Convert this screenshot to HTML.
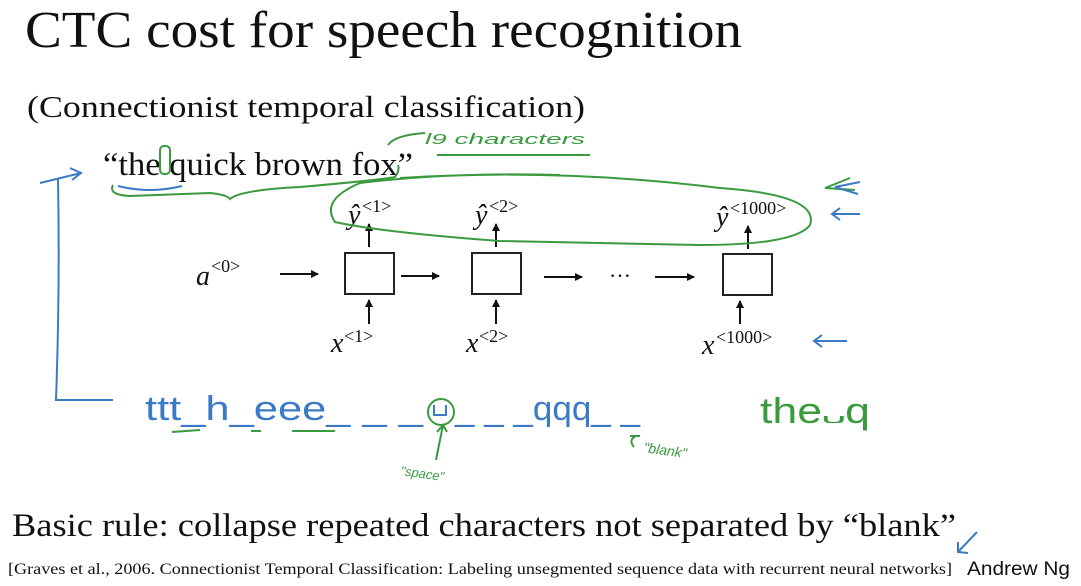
<!DOCTYPE html>
<html><head><meta charset="utf-8"><style>
html,body{margin:0;padding:0;background:#fff;}
svg{display:block}
.s{font-family:"Liberation Serif",serif;fill:#111}
.h{font-family:"Liberation Sans",sans-serif}
</style></head><body>
<svg width="1081" height="586" viewBox="0 0 1081 586" xmlns="http://www.w3.org/2000/svg">
<defs><marker id="a" markerWidth="8" markerHeight="8" refX="7" refY="4" orient="auto" markerUnits="userSpaceOnUse"><path d="M0,0 L8,4 L0,8 z" fill="#111"/></marker></defs>
<text class="s" x="25" y="47" font-size="52" textLength="717" lengthAdjust="spacingAndGlyphs">CTC cost for speech recognition</text>
<text class="s" x="27" y="117" font-size="31" textLength="558" lengthAdjust="spacingAndGlyphs">(Connectionist temporal classification)</text>
<text class="s" x="103" y="175" font-size="33" textLength="310" lengthAdjust="spacingAndGlyphs">“the quick brown fox”</text>
<g stroke="#222" stroke-width="2" fill="none">
<rect x="345" y="253" width="49" height="41"/>
<rect x="472" y="253" width="49" height="41"/>
<rect x="723" y="254" width="49" height="41"/>
</g>
<g stroke="#111" stroke-width="2" marker-end="url(#a)">
<line x1="280" y1="274" x2="318" y2="274"/>
<line x1="401" y1="276" x2="439" y2="276"/>
<line x1="544" y1="277" x2="582" y2="277"/>
<line x1="655" y1="277" x2="694" y2="277"/>
<line x1="369" y1="247" x2="369" y2="224"/>
<line x1="496" y1="247" x2="496" y2="224"/>
<line x1="748" y1="249" x2="748" y2="226"/>
<line x1="369" y1="324" x2="369" y2="300"/>
<line x1="496" y1="324" x2="496" y2="300"/>
<line x1="740" y1="324" x2="740" y2="301"/>
</g>
<text class="s" x="609" y="283" font-size="22">···</text>
<g font-family="Liberation Serif,serif" fill="#111">
<text x="196" y="285" font-size="28" font-style="italic">a</text><text x="211" y="272" font-size="18">&lt;0&gt;</text>
<text x="348" y="224" font-size="28" font-style="italic">ŷ</text><text x="362" y="212" font-size="18">&lt;1&gt;</text>
<text x="475" y="224" font-size="28" font-style="italic">ŷ</text><text x="489" y="212" font-size="18">&lt;2&gt;</text>
<text x="716" y="226" font-size="28" font-style="italic">ŷ</text><text x="730" y="214" font-size="18">&lt;1000&gt;</text>
<text x="331" y="352" font-size="28" font-style="italic">x</text><text x="344" y="342" font-size="18">&lt;1&gt;</text>
<text x="466" y="352" font-size="28" font-style="italic">x</text><text x="479" y="342" font-size="18">&lt;2&gt;</text>
<text x="702" y="354" font-size="28" font-style="italic">x</text><text x="716" y="343" font-size="18">&lt;1000&gt;</text>
</g>
<g stroke="#3a9a3e" stroke-width="2" fill="none">
<path d="M113,185 Q108,195 130,196 L210,193 Q228,195 230,199 Q240,190 300,187 Q380,180 395,177 Q400,170 398,165"/>
<path d="M388,145 Q395,135 425,133"/>
<path d="M437,155 L590,155"/>
<rect x="160" y="146" width="10" height="28" rx="4"/>
<path d="M400,178 Q560,168 720,188 Q820,195 810,225 Q795,245 700,245 L500,241 Q380,232 335,222 Q320,200 360,183 Q450,172 560,175"/>
<path d="M850,178 L825,188 L855,190"/>
<circle cx="441" cy="412" r="13"/>
<path d="M436,460 L443,425 M437,432 L443,425 L447,432"/>
<path d="M172,432 L200,430 M251,431 L261,431 M292,431 L335,431"/>
<path d="M636,436 Q628,440 634,447 M630,436 L640,436"/>
</g>
<text x="425" y="144" fill="#3a9a3e" font-family="Liberation Sans,sans-serif" font-size="15" font-style="italic" textLength="160" lengthAdjust="spacingAndGlyphs">l9  characters</text>
<text x="400" y="475" fill="#3a9a3e" font-family="Liberation Sans,sans-serif" font-size="13" font-style="italic" transform="rotate(8 400 475)">"space"</text>
<text x="643" y="452" fill="#3a9a3e" font-family="Liberation Sans,sans-serif" font-size="14" font-style="italic" transform="rotate(8 643 452)">"blank"</text>
<text x="760" y="423" fill="#3a9a3e" font-family="Liberation Sans,sans-serif" font-size="36" textLength="110" lengthAdjust="spacingAndGlyphs">the᎑q</text>
<g stroke="#3a7ac6" stroke-width="2" fill="none">
<path d="M58,178 Q60,290 56,400 L113,400"/>
<path d="M40,183 L81,173 M70,168 L81,173 L72,180"/>
<path d="M118,186 Q150,194 182,186"/>
<path d="M860,182 L835,187 L858,194"/>
<path d="M860,214 L832,214 M840,208 L832,214 L840,220"/>
<path d="M847,341 L814,341 M822,335 L814,341 L822,347"/>
<path d="M977,532 L958,552 M958,542 L958,552 L968,553"/>
<path d="M434,405 L434,415 L446,415 L446,405"/>
</g>
<text x="145" y="420" fill="#3a7ac6" font-family="Liberation Sans,sans-serif" font-size="34" textLength="278" lengthAdjust="spacingAndGlyphs">ttt_h_eee_ _ _</text>
<text x="455" y="420" fill="#3a7ac6" font-family="Liberation Sans,sans-serif" font-size="34" textLength="185" lengthAdjust="spacingAndGlyphs">_ _ _qqq_ _</text>
<text class="s" x="12" y="536" font-size="33" textLength="944" lengthAdjust="spacingAndGlyphs">Basic rule: collapse repeated characters not separated by “blank”</text>
<text class="s" x="8" y="574" font-size="16" textLength="944" lengthAdjust="spacingAndGlyphs">[Graves et al., 2006. Connectionist Temporal Classification: Labeling unsegmented sequence data with recurrent neural networks]</text>
<text class="h" x="967" y="575" font-size="19" fill="#111" textLength="103" lengthAdjust="spacingAndGlyphs">Andrew Ng</text>
</svg>
</body></html>
